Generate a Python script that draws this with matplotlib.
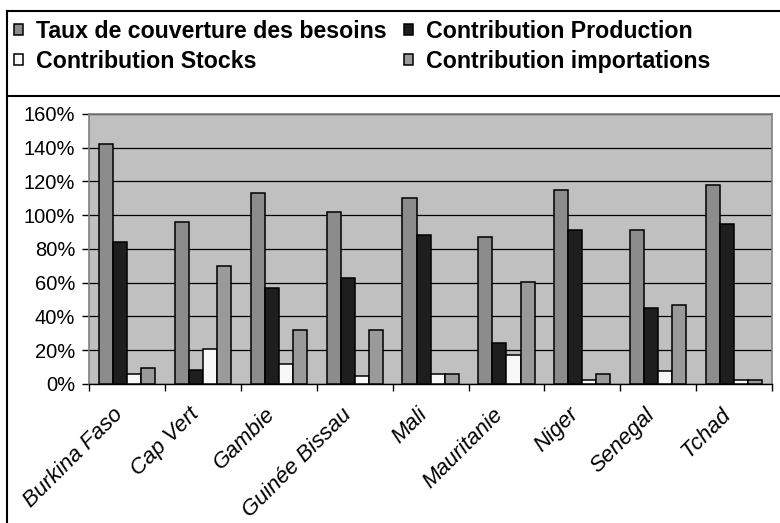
"""
Taux de couverture des besoins et contributions par pays
"""

import numpy as np
import matplotlib
matplotlib.use("Agg")
import matplotlib.pyplot as plt
from matplotlib.ticker import PercentFormatter
from matplotlib.lines import Line2D
from matplotlib.transforms import ScaledTranslation


pays = [
    "Burkina Faso", "Cap Vert", "Gambie", "Guinée Bissau", "Mali",
    "Mauritanie", "Niger", "Senegal", "Tchad",
]

# values in percent
taux_couverture = [142, 96, 113, 102, 110, 87, 115, 91, 118]
contrib_production = [84, 8, 57, 63, 88, 24, 91, 45, 95]
contrib_stocks = [6, 21, 12, 5, 6, 17, 2.5, 7.5, 2.5]
contrib_importations = [9.5, 70, 32, 32, 6, 60.5, 6, 47, 2.5]

series = [
    ("Taux de couverture des besoins", taux_couverture, "#8c8c8c"),
    ("Contribution Production", contrib_production, "#1e1e1e"),
    ("Contribution Stocks", contrib_stocks, "#f8f8f8"),
    ("Contribution importations", contrib_importations, "#9a9a9a"),
]

plt.rcParams["font.family"] = ["Liberation Sans", "DejaVu Sans"]


def main():

    fig = plt.figure(figsize=(7.8, 5.23), dpi=100)

    ax = fig.add_axes([0.114, 0.2658, 0.876, 0.5164])
    ax.set_facecolor("#c0c0c0")

    x = np.arange(len(pays))
    width = 0.185
    handles = []

    for i, (label, values, color) in enumerate(series):
        offset = (i - 1.5) * width
        bars = ax.bar(
            x + offset,
            values,
            width,
            color=color,
            edgecolor="black",
            linewidth=1.1,
            label=label,
            zorder=3,
        )
        handles.append(bars)

    ax.set_xlim(-0.5, len(pays) - 0.5)
    ax.set_ylim(0, 160)
    ax.set_yticks(np.arange(0, 161, 20))
    ax.yaxis.set_major_formatter(PercentFormatter(decimals=0))

    ax.grid(axis="y", color="black", linewidth=0.9, zorder=1)

    # tick marks only at category boundaries, labels drawn as rotated texts
    ax.set_xticks([])
    ax.set_xticks(np.arange(-0.5, len(pays)), minor=True)
    ax.tick_params(axis="x", which="minor", length=5, width=1, color="black",
                   labelbottom=False)

    label_trans = ax.get_xaxis_transform() + ScaledTranslation(
        -0.14, -0.20, fig.dpi_scale_trans
    )
    for xi, name in zip(x, pays):
        ax.text(
            xi, 0, name,
            transform=label_trans,
            rotation=45,
            ha="right",
            va="top",
            rotation_mode="anchor",
            fontstyle="italic",
            fontsize=16,
        )

    ax.tick_params(axis="y", length=5, width=1, color="black", labelsize=14.5, pad=5)

    for side in ["top", "right", "left"]:
        ax.spines[side].set_color("#808080")
        ax.spines[side].set_linewidth(1.2)
    ax.spines["bottom"].set_color("black")
    ax.spines["bottom"].set_linewidth(1.0)

    # legend: column 1 = taux / stocks, column 2 = production / importations
    order = [0, 2, 1, 3]
    fig.legend(
        [handles[i] for i in order],
        [series[i][0] for i in order],
        loc="upper left",
        bbox_to_anchor=(0.018, 0.962),
        ncol=2,
        frameon=False,
        prop={"weight": "bold", "size": 16.7},
        handlelength=0.4,
        handleheight=0.4,
        handletextpad=0.55,
        columnspacing=0.75,
        labelspacing=0.3,
        borderaxespad=0,
        borderpad=0,
    )

    # chart frame (cropped on the right and bottom)
    frame_x = 7 / 780
    frame_top = 1 - 11 / 523
    sep_y = 1 - 96 / 523
    fig.add_artist(Line2D([frame_x, 1], [frame_top, frame_top], color="black", linewidth=1.5))
    fig.add_artist(Line2D([frame_x, frame_x], [0, frame_top], color="black", linewidth=1.5))
    fig.add_artist(Line2D([frame_x, 1], [sep_y, sep_y], color="black", linewidth=1.5))

    plt.savefig("out.png", dpi=100)
    plt.close()


if __name__ == "__main__":
    main()
